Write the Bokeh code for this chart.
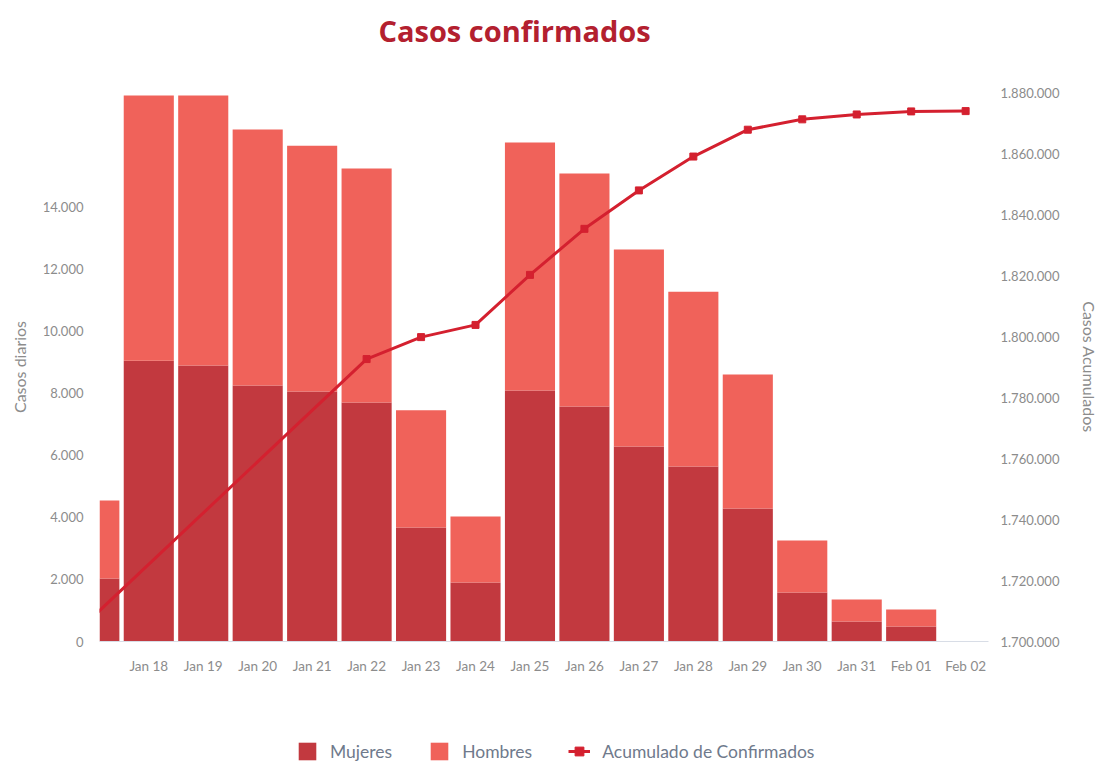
from bokeh.plotting import figure
from bokeh.models import Range1d, LinearAxis, FixedTicker, Legend, LegendItem, ColumnDataSource, Label
from bokeh.layouts import column
from bokeh.embed import file_html
from bokeh.resources import INLINE

# ---------------- data ----------------
dias = ["Jan 17", "Jan 18", "Jan 19", "Jan 20", "Jan 21", "Jan 22", "Jan 23", "Jan 24",
        "Jan 25", "Jan 26", "Jan 27", "Jan 28", "Jan 29", "Jan 30", "Jan 31", "Feb 01", "Feb 02"]
mujeres = [2030, 9040, 8880, 8240, 8050, 7690, 3670, 1900,
           8080, 7560, 6280, 5630, 4280, 1580, 640, 480, 0]
hombres = [2510, 8530, 8690, 8240, 7910, 7530, 3770, 2120,
           7980, 7500, 6340, 5630, 4310, 1670, 710, 550, 0]
acumulado = [1708500, None, None, None, None, 1792600, 1799800, 1803800,
             1820200, 1835300, 1847900, 1859000, 1867800, 1871200, 1872800, 1873800, 1873900]

ticks_izq = [0, 2000, 4000, 6000, 8000, 10000, 12000, 14000]
etiquetas_izq = ["0", "2.000", "4.000", "6.000", "8.000", "10.000", "12.000", "14.000"]
ticks_der = [1700000, 1720000, 1740000, 1760000, 1780000, 1800000, 1820000, 1840000, 1860000, 1880000]
etiquetas_der = ["1.700.000", "1.720.000", "1.740.000", "1.760.000", "1.780.000",
                 "1.800.000", "1.820.000", "1.840.000", "1.860.000", "1.880.000"]

titulo = "Casos confirmados"
serie_nombres = ["Mujeres", "Hombres", "Acumulado de Confirmados"]

# ---------------- styling ----------------
C_MUJ = "#C2393F"
C_HOM = "#F0625A"
C_LINE = "#D4202F"
C_TITLE = "#B3202F"
C_TXT = "#8c8c8c"
FONT = "Lato"
FW = 889          # frame width shared by all strips
BL, BR = 99, 109  # left / right borders

x = list(range(len(dias)))
total = [m + h for m, h in zip(mujeres, hombres)]
src = ColumnDataSource(dict(x=x, muj=mujeres, tot=total))

lx = [i for i, v in zip(x, acumulado) if v is not None]
ly = [v for v in acumulado if v is not None]
lsrc = ColumnDataSource(dict(x=lx, y=ly))


def strip(h):
    # helper strip (title / legend) without axes
    f = figure(frame_width=FW, frame_height=h,
               min_border_left=BL, min_border_right=BR, min_border_top=0, min_border_bottom=0,
               x_range=Range1d(0.095, 16.42), y_range=Range1d(-2000000, -1900000),
               x_axis_type=None, y_axis_type=None,
               output_backend="svg", toolbar_location=None)
    f.outline_line_color = None
    f.xgrid.visible = False
    f.ygrid.visible = False
    return f

# ---------------- title strip ----------------
pt = strip(80)
pt.add_layout(Label(x=279, y=50, x_units="screen", y_units="screen", text=titulo,
                    text_font="Open Sans", text_font_style="bold", text_font_size="29px",
                    text_color=C_TITLE, text_baseline="middle", text_align="left"))

# ---------------- main chart ----------------
p = figure(frame_width=FW, frame_height=549,
           min_border_left=BL, min_border_right=BR, min_border_top=12, min_border_bottom=90,
           x_range=Range1d(0.095, 16.42), y_range=Range1d(0, 17670),
           output_backend="svg", toolbar_location=None)
p.outline_line_color = None
p.background_fill_color = "white"
p.border_fill_color = "white"
p.xgrid.visible = False
p.ygrid.visible = False

p.extra_y_ranges = {"acc": Range1d(1700000, 1880000)}

p.vbar(x="x", width=0.92, bottom=0, top="muj", source=src, fill_color=C_MUJ, line_color=None)
p.vbar(x="x", width=0.92, bottom="muj", top="tot", source=src, fill_color=C_HOM, line_color=None)
p.line(x="x", y="y", source=lsrc, y_range_name="acc", line_color=C_LINE, line_width=3)
p.scatter(x="x", y="y", source=lsrc, y_range_name="acc", marker="square",
          size=7, fill_color=C_LINE, line_color=C_LINE)


def style_axis(ax, size):
    ax.axis_line_color = None
    ax.major_tick_line_color = None
    ax.minor_tick_line_color = None
    ax.major_tick_out = 0
    ax.major_tick_in = 0
    ax.minor_tick_out = 0
    ax.minor_tick_in = 0
    ax.major_label_text_font = FONT
    ax.major_label_text_font_size = size
    ax.major_label_text_color = C_TXT
    ax.axis_label_text_font = FONT
    ax.axis_label_text_font_style = "normal"
    ax.axis_label_text_font_size = "16px"
    ax.axis_label_text_color = C_TXT

xa = p.xaxis[0]
style_axis(xa, "13.5px")
xa.ticker = FixedTicker(ticks=x[1:])
xa.major_label_overrides = {i: d for i, d in zip(x[1:], dias[1:])}
xa.axis_line_color = "#d8dde6"
xa.major_label_standoff = 16

ya = p.yaxis[0]
style_axis(ya, "13px")
ya.ticker = FixedTicker(ticks=ticks_izq)
ya.major_label_overrides = {t: s for t, s in zip(ticks_izq, etiquetas_izq)}
ya.major_label_standoff = 16
ya.axis_label = "Casos diarios"
ya.axis_label_standoff = 11

ra = LinearAxis(y_range_name="acc", ticker=FixedTicker(ticks=ticks_der))
style_axis(ra, "13px")
ra.major_label_overrides = {t: s for t, s in zip(ticks_der, etiquetas_der)}
ra.major_label_standoff = 12
ra.axis_label = "Casos Acumulados"
ra.axis_label_standoff = 18
p.add_layout(ra, "right")

# ---------------- legend strip ----------------
pl = strip(32)
l_muj = pl.vbar(x="x", width=0.92, bottom=0, top="muj", source=src, fill_color=C_MUJ, line_color=None)
l_hom = pl.vbar(x="x", width=0.92, bottom="muj", top="tot", source=src, fill_color=C_HOM, line_color=None)
l_line = pl.line(x="x", y="y", source=lsrc, line_color=C_LINE, line_width=3)
l_pts = pl.scatter(x="x", y="y", source=lsrc, marker="square", size=7,
                   fill_color=C_LINE, line_color=C_LINE)
for r in (l_muj, l_hom, l_line, l_pts):
    r.visible = False   # only their legend icons are shown

legend = Legend(items=[
    LegendItem(label=serie_nombres[0], renderers=[l_muj]),
    LegendItem(label=serie_nombres[1], renderers=[l_hom]),
    LegendItem(label=serie_nombres[2], renderers=[l_line, l_pts]),
], orientation="horizontal", location=(197, 1))
legend.border_line_color = None
legend.background_fill_alpha = 0
legend.inactive_fill_alpha = 0
legend.padding = 0
legend.margin = 0
legend.spacing = 36
legend.glyph_width = 22
legend.glyph_height = 22
legend.label_height = 22
legend.label_standoff = 12
legend.label_text_font = FONT
legend.label_text_font_size = "17.5px"
legend.label_text_color = "#6f7a8c"
pl.add_layout(legend, "center")

layout = column(pt, p, pl, spacing=0)
open("out.html", "w").write(file_html(layout, INLINE))
